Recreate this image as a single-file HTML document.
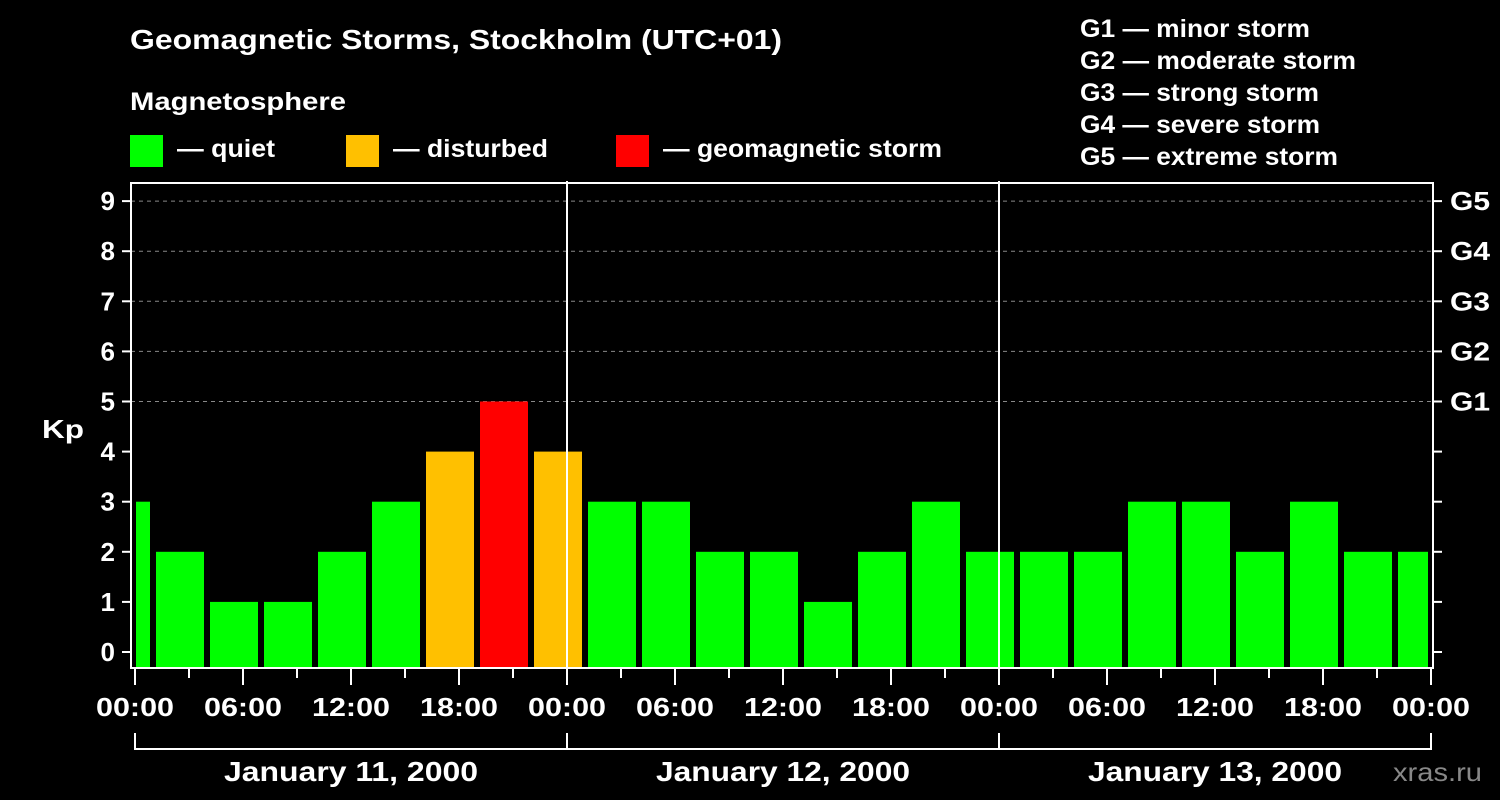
<!DOCTYPE html>
<html><head><meta charset="utf-8"><style>
html,body{margin:0;padding:0;background:#000;}
svg{display:block;font-family:"Liberation Sans",Arial,sans-serif;font-weight:bold;}
</style></head><body>
<svg id="chart" width="1500" height="800" viewBox="0 0 1500 800" font-family="Liberation Sans, Arial, sans-serif" font-weight="bold">
<rect x="0" y="0" width="1500" height="800" fill="#000"/>
<text x="130" y="49" fill="#fff" font-size="28" textLength="652" lengthAdjust="spacingAndGlyphs">Geomagnetic Storms, Stockholm (UTC+01)</text>
<text x="130" y="110" fill="#fff" font-size="25" textLength="216" lengthAdjust="spacingAndGlyphs">Magnetosphere</text>
<g><rect x="130" y="135" width="33" height="32" fill="#00ff00"/><text x="177" y="157" fill="#fff" font-size="25" textLength="98" lengthAdjust="spacingAndGlyphs">— quiet</text></g>
<g><rect x="346" y="135" width="33" height="32" fill="#ffc000"/><text x="393" y="157" fill="#fff" font-size="25" textLength="155" lengthAdjust="spacingAndGlyphs">— disturbed</text></g>
<g><rect x="616" y="135" width="33" height="32" fill="#ff0000"/><text x="663" y="157" fill="#fff" font-size="25" textLength="279" lengthAdjust="spacingAndGlyphs">— geomagnetic storm</text></g>
<g fill="#fff" font-size="25">
<text x="1080" y="37" textLength="230" lengthAdjust="spacingAndGlyphs">G1 — minor storm</text>
<text x="1080" y="69" textLength="276" lengthAdjust="spacingAndGlyphs">G2 — moderate storm</text>
<text x="1080" y="101" textLength="239" lengthAdjust="spacingAndGlyphs">G3 — strong storm</text>
<text x="1080" y="133" textLength="240" lengthAdjust="spacingAndGlyphs">G4 — severe storm</text>
<text x="1080" y="165" textLength="258" lengthAdjust="spacingAndGlyphs">G5 — extreme storm</text>
</g>
<text x="42" y="438" fill="#fff" font-size="26" textLength="42" lengthAdjust="spacingAndGlyphs">Kp</text>
<text x="1393" y="781" fill="#888" font-size="26" font-weight="normal" textLength="89" lengthAdjust="spacingAndGlyphs">xras.ru</text>
<g id="grid"></g><g id="bars"></g><g id="axes"></g>
</svg>
<script>
const kpValues=[3,2,1,1,2,3,4,5,4,3,3,2,2,1,2,3,2,2,2,3,3,2,3,2,2];
const yTicks=[0,1,2,3,4,5,6,7,8,9];
const gLabels=["G1","G2","G3","G4","G5"];
const xTickLabels=["00:00","06:00","12:00","18:00","00:00","06:00","12:00","18:00","00:00","06:00","12:00","18:00","00:00"];
const dayLabels=["January 11, 2000","January 12, 2000","January 13, 2000"];
const binStartHour=-2, binHours=3, totalHours=72;
(function(){
const NS="http://www.w3.org/2000/svg";
const X0=135,PXH=18,Y0=652,PXK=50.1;
const pL=131,pR=1433,pT=183,pB=668;
const xs=h=>X0+h*PXH, ys=v=>Y0-v*PXK;
function mk(tag,attrs,parent,txt){const e=document.createElementNS(NS,tag);for(const k in attrs)e.setAttribute(k,attrs[k]);if(txt!==undefined)e.textContent=txt;parent.appendChild(e);return e;}
const grid=document.getElementById('grid'),bars=document.getElementById('bars'),axes=document.getElementById('axes');
for(let v=5;v<=9;v++){const l=mk('line',{x1:pL,x2:pR,y1:ys(v),y2:ys(v),stroke:'#888','stroke-width':1,'stroke-dasharray':'4,4'},grid);

}
kpValues.forEach((v,i)=>{
 let x1=xs(binStartHour+i*binHours)+3,x2=xs(binStartHour+(i+1)*binHours)-3;
 x1=Math.max(x1,pL+5);x2=Math.min(x2,pR-5);
 const c=v>=5?'#ff0000':(v>=4?'#ffc000':'#00ff00');
 const r=mk('rect',{x:x1,y:ys(v),width:x2-x1,height:pB-ys(v),fill:c},bars);
 
 
});
for(let d=1;d<3;d++){const l=mk('line',{x1:xs(d*24),x2:xs(d*24),y1:181,y2:pB,stroke:'#fff','stroke-width':2},axes);

}
const fr=mk('rect',{x:pL,y:pT,width:pR-pL,height:pB-pT,fill:'none',stroke:'#fff','stroke-width':2},axes);


yTicks.forEach(v=>{
 mk('line',{x1:122,x2:pL,y1:ys(v),y2:ys(v),stroke:'#fff','stroke-width':2},axes);
 mk('line',{x1:pR,x2:1442,y1:ys(v),y2:ys(v),stroke:'#fff','stroke-width':2},axes);
 const t=mk('text',{x:115,y:ys(v)+9,fill:'#fff','font-size':26,'text-anchor':'end'},axes,String(v));
 
 
});
gLabels.forEach((g,i)=>{const t=mk('text',{x:1450,y:ys(5+i)+9,fill:'#fff','font-size':26,textLength:40,lengthAdjust:'spacingAndGlyphs'},axes,g);

});
for(let h=0;h<=totalHours;h+=3){const major=h%6===0;
 mk('line',{x1:xs(h),x2:xs(h),y1:pB,y2:major?685:678,stroke:'#fff','stroke-width':2},axes);}
xTickLabels.forEach((s,i)=>{const t=mk('text',{x:xs(i*6),y:716,fill:'#fff','font-size':26,'text-anchor':'middle',textLength:78,lengthAdjust:'spacingAndGlyphs'},axes,s);

});
mk('line',{x1:xs(0),x2:xs(totalHours),y1:749,y2:749,stroke:'#fff','stroke-width':2},axes);
for(let d=0;d<=3;d++)mk('line',{x1:xs(d*24),x2:xs(d*24),y1:733,y2:750,stroke:'#fff','stroke-width':2},axes);
dayLabels.forEach((s,i)=>{const t=mk('text',{x:xs(i*24+12),y:781,fill:'#fff','font-size':28,'text-anchor':'middle',textLength:254,lengthAdjust:'spacingAndGlyphs'},axes,s);

});
})();
</script>
</body></html>
